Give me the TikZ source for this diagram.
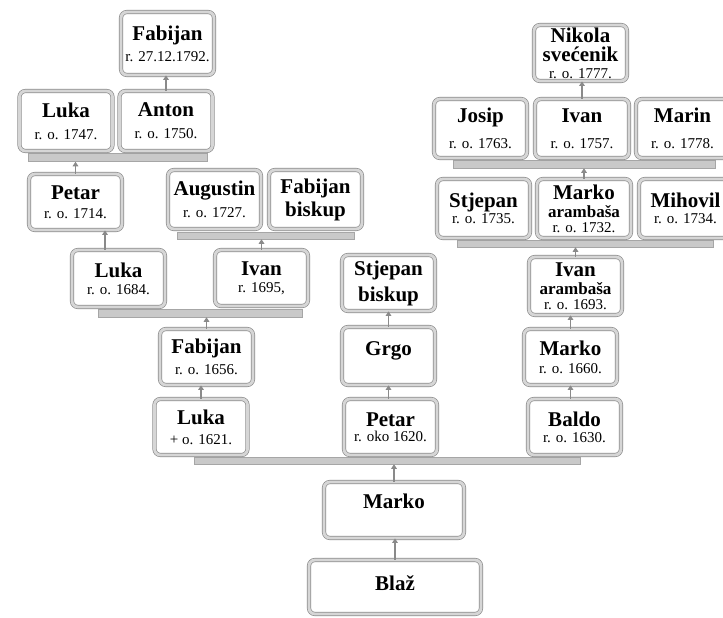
\documentclass[tikz,border=0pt]{standalone}
\usepackage{fontspec}
\setmainfont{Liberation Serif}
\usetikzlibrary{arrows.meta}
\definecolor{okvir}{HTML}{8E8E8E}
\definecolor{okvirtrak}{HTML}{D6D6D6}
\definecolor{trakasiva}{HTML}{C9C9C9}
\definecolor{trakarub}{HTML}{A6A6A6}
\definecolor{strelasiva}{HTML}{8A8A8A}
\newcommand{\godina}{\fontsize{15}{15}\selectfont\mdseries}
\newcommand{\titula}{\fontsize{17}{17}\selectfont}

\begin{document}
\begin{tikzpicture}[x=1pt,y=-1pt,>=Latex,
osoba/.style={draw=okvir,line width=0.7pt,double=okvirtrak,double distance=2.8pt,rounded corners=6pt,fill=white,
  align=center,inner sep=1pt,minimum width=93pt,minimum height=57pt,font=\fontsize{21}{19}\selectfont\bfseries},
traka/.style={draw=trakarub,fill=trakasiva,line width=0.5pt,inner sep=0pt,minimum height=8pt},
strela/.style={-{Triangle[width=5.5pt,length=4.5pt]},draw=strelasiva,line width=1.6pt}]
\useasboundingbox (0,0) rectangle (723,618);
\fill[white] (0,0) rectangle (723,618);
% trake ispod redova brace
\node[traka,minimum width=179pt] (trA) at (117.5,157.5) {};
\node[traka,minimum width=177pt,minimum height=7pt] (trB) at (265.5,235.5) {};
\node[traka,minimum width=204pt] (trC) at (200,313) {};
\node[traka,minimum width=262pt] (trD) at (584,164) {};
\node[traka,minimum width=256pt,minimum height=7pt] (trE) at (585,243.5) {};
\node[traka,minimum width=386pt,minimum height=7pt] (trF) at (387,460.5) {};
% lijeva grana
\node[osoba,minimum height=63pt] (fab1792) at (167.5,43.5) {Fabijan\\[2pt]{\godina r. 27.12.1792.}};
\node[osoba,minimum height=60pt] (luka1747) at (66,121) {Luka\\[3pt]{\godina r. o. 1747.}};
\node[osoba,minimum height=60pt] (anton) at (166,121) {Anton\\[3pt]{\godina r. o. 1750.}};
\node[osoba,minimum height=56pt] (petar1714) at (75.5,202) {Petar\\{\godina r. o. 1714.}};
\node[osoba,minimum height=59pt] (augustin) at (214.5,199.5) {Augustin\\[3pt]{\godina r. o. 1727.}};
\node[osoba,minimum height=59pt] (fabbiskup) at (315.5,199.5) {Fabijan\\[3pt]biskup};
\node[osoba] (luka1684) at (118.5,278.5) {Luka\\[-2pt]{\godina r. o. 1684.}};
\node[osoba,minimum height=56pt] (ivan1695) at (261.5,278) {Ivan\\[-2pt]{\godina r. 1695,}};
\node[osoba,minimum height=56pt] (fab1656) at (206.5,357) {Fabijan\\[2pt]{\godina r. o. 1656.}};
\node[osoba,minimum height=56pt] (luka1621) at (201,427) {Luka\\[1pt]{\godina + o. 1621.}};
% srednja grana
\node[osoba,minimum height=56pt] (stjbiskup) at (388.5,283) {Stjepan\\[6pt]biskup};
\node[osoba,minimum height=58pt,text depth=14pt] (grgo) at (388.5,356) {Grgo};
\node[osoba,minimum height=56pt] (petar1620) at (390.5,427) {Petar\\[-4pt]{\godina r. oko 1620.}};
% desna grana
\node[osoba,minimum height=56pt] (nikola) at (580.5,53) {Nikola\\[0pt]svećenik\\[-2pt]{\godina r. o. 1777.}};
\node[osoba,minimum height=59pt] (josip) at (480.5,128.5) {Josip\\[7pt]{\godina r. o. 1763.}};
\node[osoba,minimum height=59pt,minimum width=94pt] (ivan1757) at (582,128.5) {Ivan\\[7pt]{\godina r. o. 1757.}};
\node[osoba,minimum height=59pt] (marin) at (682.5,128.5) {Marin\\[7pt]{\godina r. o. 1778.}};
\node[osoba,minimum height=59pt] (stjepan) at (483.5,208.5) {Stjepan\\[-3pt]{\godina r. o. 1735.}};
\node[osoba,minimum height=59pt,minimum width=94pt] (marko1732) at (584,208.5) {Marko\\[-1pt]{\titula arambaša}\\[-4pt]{\godina r. o. 1732.}};
\node[osoba,minimum height=59pt] (mihovil) at (685.5,208.5) {Mihovil\\[-3pt]{\godina r. o. 1734.}};
\node[osoba,minimum height=58pt] (ivan1693) at (575.5,286) {Ivan\\[-1pt]{\titula arambaša}\\[-4pt]{\godina r. o. 1693.}};
\node[osoba,minimum height=56pt] (marko1660) at (570.5,357) {Marko\\[-1pt]{\godina r. o. 1660.}};
\node[osoba,minimum height=56pt] (baldo) at (574.5,427) {Baldo\\[-3pt]{\godina r. o. 1630.}};
% korijen
\node[osoba,minimum width=140pt,minimum height=56pt,text depth=18pt] (marko) at (394,510) {Marko};
\node[osoba,minimum width=172pt,minimum height=54pt,text depth=8pt] (blaz) at (395,587) {Blaž};
% strelice
\coordinate (s1) at ([xshift=-13.5pt]luka1684.north);
\draw[strela] (anton.north) -- (anton.north |- fab1792.south);
\draw[strela] (petar1714.north) -- (petar1714.north |- trA.south);
\draw[strela] (s1) -- (s1 |- petar1714.south);
\draw[strela] (ivan1695.north) -- (ivan1695.north |- trB.south);
\draw[strela] (fab1656.north) -- (fab1656.north |- trC.south);
\draw[strela] (luka1621.north) -- (luka1621.north |- fab1656.south);
\draw[strela] (grgo.north) -- (stjbiskup.south);
\draw[strela] (grgo.south |- petar1620.north) -- (grgo.south);
\draw[strela] (ivan1757.north) -- (ivan1757.north |- nikola.south);
\draw[strela] (marko1732.north) -- (marko1732.north |- trD.south);
\draw[strela] (ivan1693.north) -- (ivan1693.north |- trE.south);
\draw[strela] (marko1660.north) -- (marko1660.north |- ivan1693.south);
\draw[strela] (marko1660.south |- baldo.north) -- (marko1660.south);
\draw[strela] (marko.north) -- (marko.north |- trF.south);
\draw[strela] (blaz.north) -- (blaz.north |- marko.south);
\end{tikzpicture}
\end{document}
